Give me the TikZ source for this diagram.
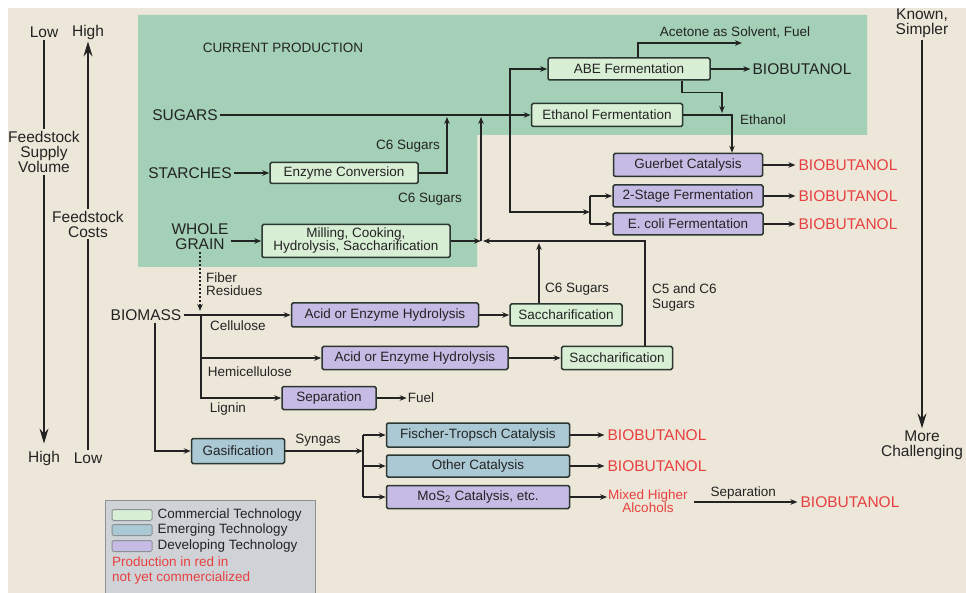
\documentclass[tikz,border=0pt]{standalone}
\usepackage{fontspec}
\setmainfont{Liberation Sans}
\usepackage{xcolor}
\usepackage{tikz}
\usetikzlibrary{arrows.meta}
\definecolor{bgbeige}{RGB}{236, 231, 216}
\definecolor{prodgreen}{RGB}{163, 208, 182}
\definecolor{commfill}{RGB}{216, 239, 213}
\definecolor{emerfill}{RGB}{170, 201, 213}
\definecolor{devfill}{RGB}{198, 187, 228}
\definecolor{boxline}{RGB}{45, 55, 50}
\definecolor{inkgray}{RGB}{35, 35, 35}
\definecolor{redtext}{RGB}{232, 64, 64}
\definecolor{legendfill}{RGB}{207, 210, 215}
\definecolor{legendline}{RGB}{140, 145, 150}
\newcommand{\boxfont}{\fontsize{13.5}{15}\selectfont}
\newcommand{\millfont}{\fontsize{13.5}{13}\selectfont}
\newcommand{\feedfont}{\fontsize{15.5}{15}\selectfont}
\tikzset{
	tech/.style={draw=boxline, line width=1.5pt, rounded corners=1.5pt, inner sep=0pt, text=inkgray, font=\boxfont, align=center},
	commtech/.style={tech, fill=commfill},
	emertech/.style={tech, fill=emerfill},
	devtech/.style={tech, fill=devfill},
	plainflow/.style={draw=inkgray, line width=1.3pt},
	flow/.style={plainflow, -{Stealth[length=7pt,width=5.5pt]}},
	fiberflow/.style={flow, dash pattern=on 2pt off 2pt},
	axisline/.style={draw=inkgray, line width=1.6pt},
	axisflow/.style={axisline, -{Stealth[length=15pt,width=9pt]}},
	lbl/.style={text=inkgray, font=\boxfont, inner sep=1pt, align=center},
	feed/.style={text=inkgray, font=\feedfont, inner sep=2pt, align=center},
	prod/.style={text=redtext, font=\feedfont, inner sep=3pt},
	swatch/.style={draw=legendline, line width=1pt, rounded corners=1.5pt, minimum width=40pt, minimum height=11pt, inner sep=0pt}
}
\begin{document}
\begin{tikzpicture}[x=1pt, y=-1pt]
		\useasboundingbox (0,0) rectangle (966,593);
		\fill[white] (0,0) rectangle (966,593);
		\fill[bgbeige] (8,8) rectangle (966,593);
		\fill[prodgreen] (138,15) -- (867,15) -- (867,135) -- (477,135) -- (477,267) -- (138,267) -- cycle;
		\node[lbl] (current) at (283,48) {CURRENT PRODUCTION};
		
		\node[feed] (lowsup) at (44,32) {Low};
		\node[feed] (highcost) at (88,32) {High};
		\node[feed] (volume) at (44,152) {Feedstock\\Supply\\Volume};
		\node[feed] (costs) at (88,224) {Feedstock\\Costs};
		\node[feed] (highsup) at (44,458) {High};
		\node[feed] (lowcost) at (88,458) {Low};
		\draw[axisline] (lowsup) -- (volume);
		\draw[axisflow, shorten >=5pt] (volume) -- (highsup);
		\draw[axisline] (lowcost) -- (costs);
		\draw[axisflow] (costs) -- (highcost);
		\node[feed] (known) at (922,23) {Known,\\Simpler};
		\node[feed] (harder) at (922,445) {More\\Challenging};
		\draw[axisflow] (known) -- (harder);
		
		\node[feed] (sugars) at (185,115) {SUGARS};
		\node[feed] (starches) at (190,173) {STARCHES};
		\node[feed] (grain) at (200,237) {WHOLE\\GRAIN};
		\node[feed] (biomass) at (146,315) {BIOMASS};
		
		\node[commtech, minimum width=162, minimum height=22] (abe) at (629,69) {ABE Fermentation};
		\node[commtech, minimum width=151, minimum height=23] (ethf) at (607,115) {Ethanol Fermentation};
		\node[commtech, minimum width=148, minimum height=21] (enz) at (344,173) {Enzyme Conversion};
		\node[commtech, minimum width=188, minimum height=33, font=\millfont] (mill) at (356,241) {Milling, Cooking,\\Hydrolysis, Saccharification};
		\node[devtech, minimum width=149, minimum height=23] (gue) at (688,165) {Guerbet Catalysis};
		\node[devtech, minimum width=150, minimum height=22] (two) at (688,196) {2-Stage Fermentation};
		\node[devtech, minimum width=150, minimum height=22] (eco) at (688,224) {E. coli Fermentation};
		\node[devtech, minimum width=187, minimum height=24] (acid1) at (385,315) {Acid or Enzyme Hydrolysis};
		\node[commtech, minimum width=112, minimum height=22] (sac1) at (566,315) {Saccharification};
		\node[devtech, minimum width=186, minimum height=23] (acid2) at (415,358) {Acid or Enzyme Hydrolysis};
		\node[commtech, minimum width=111, minimum height=23] (sac2) at (617,358) {Saccharification};
		\node[devtech, minimum width=94, minimum height=23] (sep) at (329,398) {Separation};
		\node[emertech, minimum width=93, minimum height=25] (gas) at (238,451) {Gasification};
		\node[emertech, minimum width=183, minimum height=24] (ft) at (478,435) {Fischer-Tropsch Catalysis};
		\node[emertech, minimum width=183, minimum height=22] (oth) at (478,466) {Other Catalysis};
		\node[devtech, minimum width=183, minimum height=23] (mos) at (478,497) {MoS\textsubscript{2} Catalysis, etc.};
		
		\node[feed] (bioabe) at (802,69) {BIOBUTANOL};
		\node[prod] (biogue) at (848,165) {BIOBUTANOL};
		\node[prod] (biotwo) at (848,196) {BIOBUTANOL};
		\node[prod] (bioeco) at (848,224) {BIOBUTANOL};
		\node[prod] (bioft) at (657,435) {BIOBUTANOL};
		\node[prod] (biooth) at (657,466) {BIOBUTANOL};
		\node[lbl, text=redtext, font=\millfont] (mixed) at (648,501) {Mixed Higher\\Alcohols};
		\node[prod] (bioalc) at (850,502) {BIOBUTANOL};
		
		\node[lbl] (acetone) at (735,32) {Acetone as Solvent, Fuel};
		\node[lbl] (ethlbl) at (763,120) {Ethanol};
		\node[lbl] (c6enz) at (408,146) {C6 Sugars};
		\node[lbl] (c6mill) at (430,199) {C6 Sugars};
		\node[lbl] (c6sac) at (577,289) {C6 Sugars};
		\node[lbl, anchor=west, align=left] (c5c6) at (651,298) {C5 and C6\\Sugars};
		\node[lbl, anchor=west, align=left, font=\millfont] (fiber) at (205,284) {Fiber\\Residues};
		\node[lbl] (cell) at (238,326) {Cellulose};
		\node[lbl] (hemi) at (250,372) {Hemicellulose};
		\node[lbl] (lignin) at (228,409) {Lignin};
		\node[lbl] (fuel) at (421,398) {Fuel};
		\node[lbl] (syngas) at (318,440) {Syngas};
		
		\coordinate (fermsplit) at (510,115);
		\coordinate (fermjoin) at (590,212);
		\coordinate (acetend) at (742,43);
		\coordinate (ethin) at (722,113);
		\coordinate (enzup) at (447,117);
		\coordinate (millsplit) at (481,241);
		\coordinate (millup) at (481,117);
		\coordinate (sacin) at (483,241);
		\coordinate (sacup) at (539,243);
		\coordinate (fiberend) at (200,311);
		\coordinate (biosplit) at (201,315);
		\coordinate (synjoin) at (363,451);
		
		\draw[flow] (sugars.east) -- (ethf.west);
		\draw[flow] (fermsplit) |- (abe.west);
		\draw[flow] (fermsplit) |- (fermjoin);
		\draw[plainflow] (fermjoin |- two.west) -- (fermjoin |- eco.west);
		\draw[flow] (fermjoin |- two.west) -- (two.west);
		\draw[flow] (fermjoin |- eco.west) -- (eco.west);
		\draw[flow] ([xshift=9pt]abe.north) |- (acetend);
		\draw[flow] (abe.east) -- (bioabe.west);
		\draw[flow] ([xshift=53pt]abe.south) -- ++(0,12) -| (ethin);
		\draw[flow] (ethf.east) -| ([xshift=44pt]gue.north);
		\draw[flow] (gue.east) -- (biogue.west);
		\draw[flow] (two.east) -- (biotwo.west);
		\draw[flow] (eco.east) -- (bioeco.west);
		
		\draw[flow] (starches.east) -- (enz.west);
		\draw[flow] (enz.east) -| (enzup);
		\draw[flow] (grain.east |- mill.west) -- (mill.west);
		\draw[flow] (mill.east) -- (millsplit);
		\draw[flow] (millsplit) -- (millup);
		\draw[flow] ([xshift=28pt]sac2.north) |- (sacin);
		\draw[flow] (sacup |- sac1.north) -- (sacup);
		
		\draw[fiberflow] (grain.south) -- (fiberend);
		\draw[flow] (biomass.east) -- (acid1.west);
		\draw[flow] (acid1.east) -- (sac1.west);
		\draw[flow] (biosplit) |- (acid2.west);
		\draw[flow] (acid2.east) -- (sac2.west);
		\draw[flow] (biosplit) |- (sep.west);
		\draw[flow] (sep.east) -- (fuel.west);
		
		\draw[flow] ([xshift=9pt]biomass.south) |- (gas.west);
		\draw[flow] (gas.east) -- (synjoin);
		\draw[plainflow] (synjoin |- ft.west) -- (synjoin |- mos.west);
		\draw[flow] (synjoin |- ft.west) -- (ft.west);
		\draw[flow] (synjoin |- oth.west) -- (oth.west);
		\draw[flow] (synjoin |- mos.west) -- (mos.west);
		\draw[flow] (ft.east) -- (bioft.west);
		\draw[flow] (oth.east) -- (biooth.west);
		\draw[flow] (mos.east) -- (mixed.west |- mos.east);
		\draw[flow, shorten <=5pt] (mixed.east |- bioalc.west) -- node[lbl, above, inner sep=2pt] (seplbl) {Separation} (bioalc.west);
		
		\fill[legendfill] (105,500) rectangle (315,598);
		\draw[legendline, line width=1pt] (105,500) rectangle (315,598);
		\node[swatch, fill=commfill] (swcomm) at (132,515) {};
		\node[swatch, fill=emerfill] (swemer) at (132,530) {};
		\node[swatch, fill=devfill] (swdev) at (132,546) {};
		\node[lbl, anchor=west] (lgcomm) at ([xshift=4pt]swcomm.east) {Commercial Technology};
		\node[lbl, anchor=west] (lgemer) at ([xshift=4pt]swemer.east) {Emerging Technology};
		\node[lbl, anchor=west] (lgdev) at ([xshift=4pt]swdev.east) {Developing Technology};
		\node[lbl, text=redtext, anchor=north west, align=left] (lgred) at (111,556) {Production in red in\\not yet commercialized};
	\end{tikzpicture}
\end{document}
